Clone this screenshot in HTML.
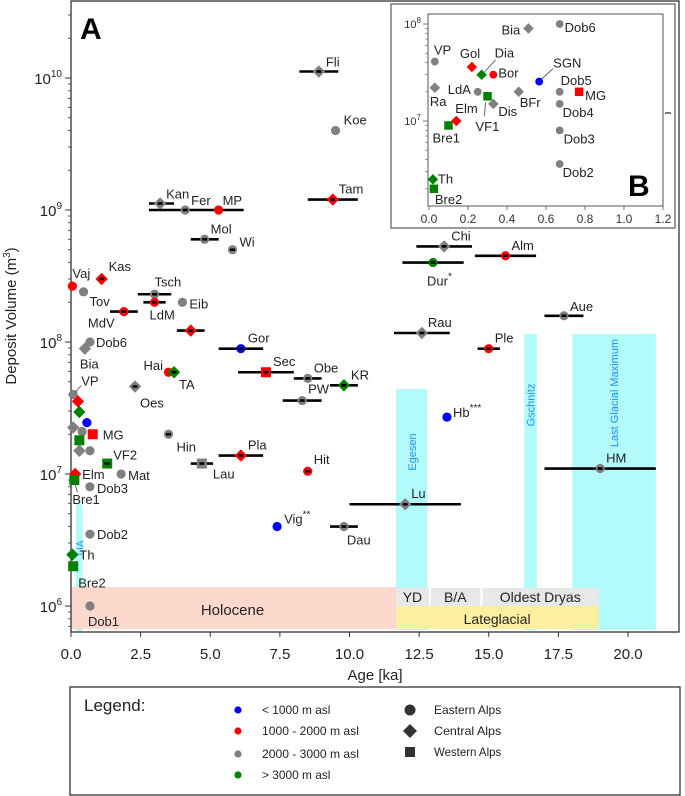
<!DOCTYPE html>
<html><head><meta charset="utf-8">
<style>
html,body{margin:0;padding:0;background:#fff;}
svg{display:block;font-family:"Liberation Sans",sans-serif;}
</style></head>
<body>
<svg id="chart" width="685" height="796" viewBox="0 0 685 796" xmlns="http://www.w3.org/2000/svg">
  <g id="bands"></g>
  <g id="axes"></g>
  <g id="marks"></g>
  <g id="inset"></g>
  <g id="legend"></g>
</svg>
<script>
// ---- main chart data ----
const names = ["Fli","Koe","Kan","Fer","MP","Tam","Mol","Wi","Vaj","Kas","Tov","Tsch","LdM","Eib","MdV","","Gor","Dob6","Bia","Hai","TA","Sec","Obe","KR","PW","Oes","VP","","","","","","MG","","","","VF2","Mat","Elm","Bre1","Dob3","Hin","Pla","Lau","Hit","Vig","Dau","Dob2","Th","Bre2","Dob1","Chi","Dur","Alm","Aue","Rau","Ple","Hb","HM","Lu"];
const ages = [8.9,9.5,3.2,4.1,5.3,9.4,4.8,5.8,0.05,1.1,0.45,3.0,3.0,4.0,1.9,4.3,6.1,0.68,0.5,3.5,3.7,7.0,8.5,9.8,8.3,2.3,0.08,0.25,0.3,0.57,0.08,0.4,0.78,0.3,0.3,0.68,1.3,1.8,0.15,0.12,0.68,3.5,6.1,4.7,8.5,7.4,9.8,0.68,0.05,0.08,0.68,13.4,13.0,15.6,17.7,12.6,15.0,13.5,19.0,12.0];
const volumes = [1.12e10,4.0e9,1.12e9,1.0e9,1.0e9,1.2e9,6.0e8,5.0e8,2.65e8,3.0e8,2.4e8,2.3e8,2.0e8,2.0e8,1.7e8,1.22e8,8.9e7,1.0e8,8.9e7,5.9e7,5.9e7,5.9e7,5.3e7,4.7e7,3.6e7,4.6e7,4.0e7,3.55e7,2.95e7,2.45e7,2.25e7,2.1e7,2.0e7,1.8e7,1.5e7,1.5e7,1.2e7,1.0e7,1.0e7,9.0e6,8.0e6,2.0e7,1.38e7,1.2e7,1.05e7,4.0e6,4.0e6,3.5e6,2.45e6,2.0e6,1.0e6,5.3e8,4.0e8,4.5e8,1.58e8,1.17e8,8.9e7,2.7e7,1.1e7,5.9e6];
const elevClass = ["g","g","g","g","r","r","g","g","r","r","g","g","r","g","r","r","b","g","g","r","gr","r","g","gr","g","g","g","r","gr","b","g","g","r","gr","g","g","gr","g","r","gr","g","g","r","g","r","b","g","g","gr","gr","g","g","gr","r","g","g","r","b","g","g"];
const region = ["C","E","C","E","E","C","E","E","E","C","E","E","E","E","E","C","E","E","C","E","C","W","E","C","E","C","E","C","C","E","C","E","W","W","C","E","W","E","C","W","E","E","C","W","E","E","E","E","C","W","E","C","E","E","E","C","E","E","E","C"];
const errLo = [8.2,null,2.8,2.8,null,8.5,4.3,5.65,null,0.95,null,2.4,2.6,null,1.4,3.8,5.3,null,null,null,3.55,6.0,8.0,9.3,7.6,2.15,null,null,null,null,null,null,null,null,null,null,1.2,null,null,null,null,3.4,5.3,4.3,8.35,null,9.3,null,null,null,null,12.4,11.9,14.5,17.0,11.6,14.6,null,17.0,10.0];
const errHi = [9.6,null,3.7,6.2,null,10.3,5.3,5.95,null,1.25,null,3.6,3.4,null,2.4,4.8,6.9,null,null,null,3.85,8.0,9.0,10.3,9.0,2.45,null,null,null,null,null,null,null,null,null,null,1.4,null,null,null,null,3.6,6.9,5.1,8.65,null,10.3,null,null,null,null,14.4,14.1,16.7,18.4,13.6,15.4,null,21.0,14.0];
const superscripts = {"Vig":"**","Dur":"*","Hb":"***"};
// label placement (layout, not data)
const labelOffsets = {Fli:[7,-5],Koe:[8,-6],Kan:[6,-5],Fer:[6,-5],MP:[4,-5],Tam:[6,-6],Mol:[6,-6],Wi:[7,-3],Vaj:[0,-8],Kas:[7,-8],Tov:[6,14],Tsch:[0,-8],LdM:[-5,17],Eib:[7,6],MdV:[-36,16],Gor:[7,-6],Dob6:[6,5],Bia:[-5,20],Hai:[-25,-2],TA:[5,17],Sec:[7,-6],Obe:[6,-6],KR:[7,-6],PW:[6,-7],Oes:[5,21],VP:[8,-9],MG:[10,5],VF2:[6,-4],Mat:[7,6],Elm:[7,5],Bre1:[-2,24],Dob3:[7,6],Hin:[8,17],Pla:[7,-6],Lau:[11,15],Hit:[6,-7],Vig:[7,-3],Dau:[3,18],Dob2:[7,5],Th:[7,5],Bre2:[5,21],Dob1:[-2,20],Chi:[7,-6],Dur:[-6,23],Alm:[6,-6],Aue:[6,-5],Rau:[6,-6],Ple:[6,-6],Hb:[6,0],HM:[6,-6],Lu:[6,-6]};

// ---- inset data ----
const insetNames = ["VP","Gol","Dia","Bor","SGN","Ra","LdA","BFr","Dob5","MG","VF1","Dis","Dob4","Elm","Bre1","Dob3","Dob2","Th","Bre2","Bia","Dob6"];
const insetAges = [0.03,0.22,0.27,0.33,0.565,0.03,0.25,0.46,0.67,0.77,0.30,0.33,0.67,0.14,0.10,0.67,0.67,0.02,0.025,0.51,0.67];
const insetVolumes = [4.1e7,3.6e7,3.0e7,3.0e7,2.55e7,2.2e7,2.0e7,2.0e7,2.0e7,2.0e7,1.8e7,1.5e7,1.5e7,1.0e7,9.0e6,8.0e6,3.6e6,2.5e6,2.0e6,9.0e7,1.0e8];
const insetClass = ["g","r","gr","r","b","g","g","g","g","r","gr","g","g","r","gr","g","g","gr","gr","g","g"];
const insetRegion = ["E","C","C","E","E","C","E","C","E","W","W","C","E","C","W","E","E","C","W","C","E"];
const insetLabelOffsets = {VP:[-1,-7],Gol:[-12,-9],Dia:[13,-17],Bor:[5,3],SGN:[14,-14],Ra:[-5,18],LdA:[-30,2],BFr:[1,15],Dob5:[1,-7],MG:[6,8],VF1:[-12,35],Dis:[5,12],Dob4:[3,13],Elm:[-1,-8],Bre1:[-16,17],Dob3:[4,13],Dob2:[3,13],Th:[5,4],Bre2:[1,15],Bia:[-27,6],Dob6:[5,8]};

const xTicks = [0,2.5,5,7.5,10,12.5,15,17.5,20];
const xTickLabels = ["0.0","2.5","5.0","7.5","10.0","12.5","15.0","17.5","20.0"];
const yTickExps = [6,7,8,9,10];
const insetXTicks = [0,0.2,0.4,0.6,0.8,1.0,1.2];
const insetXTickLabels = ["0.0","0.2","0.4","0.6","0.8","1.0","1.2"];
const insetYTickExps = [7,8];

const COLORS = {b:"#0000ff", r:"#ff0000", g:"#808080", gr:"#008000"};
const NS = "http://www.w3.org/2000/svg";

const PL=71, PR=679, PT=1, PB=632;
const X0=71, XS=27.85;
const Y6=606, YD=132;
function xs(a){return X0 + a*XS;}
function ysLog(l){return Y6 - (l-6)*YD;}
function ys(v){return ysLog(Math.log10(v));}
const IL=428, IR=663, IT=14, IB=206;
function ixs(a){return 429 + a*195;}
function iys(v){return 24 + (8-Math.log10(v))*97;}

function el(tag, attrs, parent, text){
  const e=document.createElementNS(NS,tag);
  for(const k in attrs) e.setAttribute(k,attrs[k]);
  if(text!==undefined) e.textContent=text;
  parent.appendChild(e); return e;
}
function marker(parent, cx, cy, cls, reg, s){
  const c=COLORS[cls]; let m;
  if(reg==="E"){ m=el("circle",{cx:cx,cy:cy,r:4.6*s,fill:c},parent); }
  else if(reg==="C"){ const d=6.2*s; m=el("polygon",{points:`${cx},${cy-d} ${cx+d},${cy} ${cx},${cy+d} ${cx-d},${cy}`,fill:c},parent); }
  else { const h=5*s; m=el("rect",{x:cx-h,y:cy-h,width:2*h,height:2*h,fill:c},parent); }
  return m;
}

const bands=document.getElementById('bands');
const axes=document.getElementById('axes');
const marks=document.getElementById('marks');
const inset=document.getElementById('inset');
const legend=document.getElementById('legend');

function band(name,a0,a1,yTop,yBot,fill){
  const r=el("rect",{x:xs(a0),y:yTop,width:xs(a1)-xs(a0),height:yBot-yTop,fill:fill},bands);
  
  
  return r;
}
band("lia-band",0.18,0.42,ys(5.9e6),PB,"#b3fbfb");
band("egesen-band",11.67,12.8,ys(4.4e7),PB-2,"#b3fbfb");
band("gschnitz-band",16.27,16.73,ys(1.15e8),PB-2,"#b3fbfb");
band("lgm-band",18.0,21.0,ys(1.15e8),PB-2,"#b3fbfb");
band("holocene-box",0,11.67,ysLog(6.144),ysLog(5.826),"#fdd8cc");
band("lateglacial-box",11.67,18.95,ysLog(6.0),ysLog(5.826),"#fcef9f");
band("yd-box",11.67,12.85,ysLog(6.137),ysLog(6.0),"#e8e8e8");
band("ba-box",12.92,14.7,ysLog(6.137),ysLog(6.0),"#e8e8e8");
band("oldest-dryas-box",14.78,18.95,ysLog(6.137),ysLog(6.0),"#e8e8e8");
function btext(name,x,y,t,size,fill,rot){
  const a={x:x,y:y,"font-size":size,fill:fill,"text-anchor":"middle"};
  if(rot) a.transform=`rotate(-90 ${x} ${y})`;
  const e=el("text",a,bands,t);
  
  
}
btext("holocene-label",xs(5.8),615,"Holocene",15,"#222");
btext("yd-label",xs(12.26),602,"YD",14,"#222");
btext("ba-label",xs(13.8),602,"B/A",14,"#222");
btext("oldest-dryas-label",xs(16.85),602,"Oldest Dryas",14,"#222");
btext("lateglacial-label",xs(15.3),624,"Lateglacial",14,"#222");
btext("egesen-label",xs(12.24)+4,452,"Egesen",11,"#1e90ff",true);
btext("gschnitz-label",xs(16.5)+4,405,"Gschnitz",11,"#1e90ff",true);
btext("lgm-label",xs(19.5)+4,393,"Last Glacial Maximum",11,"#1e90ff",true);
btext("lia-label",xs(0.3)+4,548,"LIA",10,"#1e90ff",true);

const frame=el("rect",{x:PL,y:PT,width:PR-PL,height:PB-PT,fill:"none",stroke:"#333","stroke-width":1.3},axes);


xTicks.forEach((t,i)=>{
  const x=xs(t);
  el("line",{x1:x,y1:PB,x2:x,y2:PB+5,stroke:"#333","stroke-width":1},axes);
  const tl=el("text",{x:x,y:659,"font-size":15,"text-anchor":"middle",fill:"#222"},axes,xTickLabels[i]);
  
  
});
yTickExps.forEach(e=>{
  const y=ysLog(e);
  el("line",{x1:PL-6,y1:y,x2:PL,y2:y,stroke:"#333","stroke-width":1},axes);
  const tl=el("text",{x:PL-9,y:y+6,"font-size":15,"text-anchor":"end",fill:"#222"},axes);
  
  
  el("tspan",{},tl,"10");
  el("tspan",{dy:-7,"font-size":10},tl,String(e));
});
for(let e=5;e<=10;e++){ for(let m=2;m<=9;m++){
  const l=e+Math.log10(m); const y=ysLog(l);
  if(y<PT||y>PB) continue;
  el("line",{x1:PL-3,y1:y,x2:PL,y2:y,stroke:"#333","stroke-width":0.8},axes);
}}
const xt=el("text",{x:(PL+PR)/2,y:680,"font-size":15,"text-anchor":"middle",fill:"#222"},axes,"Age [ka]");


const yt=el("text",{x:16,y:316,"font-size":15,"text-anchor":"middle",fill:"#222",transform:"rotate(-90 16 316)"},axes);


el("tspan",{},yt,"Deposit Volume (m");
el("tspan",{dy:-6,"font-size":10},yt,"3");
el("tspan",{dy:6},yt,")");
const pa=el("text",{x:80,y:39,"font-size":30,"font-weight":"bold",fill:"#000"},axes,"A");



names.forEach((n,i)=>{
  const x=xs(ages[i]), y=ys(volumes[i]);
  if(errLo[i]!==null){
    const eb=el("line",{x1:xs(errLo[i]),y1:y,x2:xs(errHi[i]),y2:y,stroke:"#000","stroke-width":2.6},marks);
    
    
  }
  const m=marker(marks,x,y,elevClass[i],region[i],1);
  
  
  if(errLo[i]!==null){ el("line",{x1:x-2.5,y1:y,x2:x+2.5,y2:y,stroke:"#000","stroke-width":2.6},marks); }
  if(n){
    const o=labelOffsets[n]||[6,-6];
    const lt=el("text",{x:x+o[0],y:y+o[1],"font-size":13,fill:"#222"},marks,n);
    
    
    if(superscripts[n]){ el("tspan",{dy:-6,"font-size":10},lt,superscripts[n]); }
  }
});
el("line",{x1:xs(0.08)+2,y1:ys(4.0e7)-2,x2:xs(0.08)+8,y2:ys(4.0e7)-9,stroke:"#444","stroke-width":0.8},marks);
el("line",{x1:xs(0.12)+1,y1:ys(9e6)+5,x2:xs(0.12)+3,y2:ys(9e6)+12,stroke:"#444","stroke-width":0.8},marks);

const ib=el("rect",{x:391,y:4,width:284,height:224,fill:"#fff",stroke:"#666","stroke-width":1.3},inset);


el("rect",{x:IL,y:IT,width:IR-IL,height:IB-IT,fill:"none",stroke:"#555","stroke-width":1},inset);
insetXTicks.forEach((t,i)=>{
  const x=ixs(t);
  el("line",{x1:x,y1:IB,x2:x,y2:IB+4,stroke:"#555","stroke-width":0.8},inset);
  const tl=el("text",{x:x,y:223,"font-size":12,"text-anchor":"middle",fill:"#333"},inset,insetXTickLabels[i]);
  
  
});
insetYTickExps.forEach(e=>{
  const y=iys(Math.pow(10,e));
  el("line",{x1:IL-5,y1:y,x2:IL,y2:y,stroke:"#555","stroke-width":0.8},inset);
  const tl=el("text",{x:IL-7,y:y+4,"font-size":11,"text-anchor":"end",fill:"#333"},inset);
  
  
  el("tspan",{},tl,"10");
  el("tspan",{dy:-5,"font-size":8},tl,String(e));
});
for(let e=6;e<=8;e++){ for(let m=2;m<=9;m++){
  const y=iys(m*Math.pow(10,e)); if(y<IT||y>IB) continue;
  el("line",{x1:IL-3,y1:y,x2:IL,y2:y,stroke:"#555","stroke-width":0.6},inset);
}}
el("line",{x1:665,y1:113,x2:671,y2:113,stroke:"#222","stroke-width":1.2},inset);
insetNames.forEach((n,i)=>{
  const x=ixs(insetAges[i]), y=iys(insetVolumes[i]);
  const m=marker(inset,x,y,insetClass[i],insetRegion[i],0.85);
  
  
  const o=insetLabelOffsets[n];
  const lt=el("text",{x:x+o[0],y:y+o[1],"font-size":13,fill:"#222"},inset,n);
  
  
});
el("line",{x1:ixs(0.27)+3,y1:iys(3.0e7)-3,x2:ixs(0.27)+14,y2:iys(3.0e7)-15,stroke:"#444","stroke-width":0.8},inset);
el("line",{x1:ixs(0.565)+3,y1:iys(2.55e7)-3,x2:ixs(0.565)+14,y2:iys(2.55e7)-13,stroke:"#444","stroke-width":0.8},inset);
el("line",{x1:ixs(0.30)-2,y1:iys(1.8e7)+6,x2:ixs(0.30)-3,y2:iys(1.8e7)+20,stroke:"#444","stroke-width":0.8},inset);
const pb=el("text",{x:628,y:196,"font-size":30,"font-weight":"bold",fill:"#000"},inset,"B");



const lb=el("rect",{x:70,y:687,width:610,height:108,fill:"#fff",stroke:"#333","stroke-width":1.3},legend);


const lt=el("text",{x:84,y:711,"font-size":17,fill:"#222"},legend,"Legend:");


const legElev=[["b","< 1000 m asl"],["r","1000 - 2000 m asl"],["g","2000 - 3000 m asl"],["gr","> 3000 m asl"]];
const legY=[710,731,754,775];
legElev.forEach((d,i)=>{
  const c=el("circle",{cx:238,cy:legY[i],r:3.6,fill:COLORS[d[0]]},legend);
  
  
  const t=el("text",{x:262,y:legY[i]+4,"font-size":12,fill:"#222",textLength:d[1].length*5.7,lengthAdjust:"spacingAndGlyphs"},legend,d[1]);
  
  
});
const legReg=[["E","Eastern Alps"],["C","Central Alps"],["W","Western Alps"]];
const legRY=[710,731,752];
legReg.forEach((d,i)=>{
  let m;
  if(d[0]==="E") m=el("circle",{cx:410,cy:legRY[i],r:5.5,fill:"#333"},legend);
  else if(d[0]==="C") m=el("polygon",{points:`410,${legRY[i]-7} 417,${legRY[i]} 410,${legRY[i]+7} 403,${legRY[i]}`,fill:"#333"},legend);
  else m=el("rect",{x:405,y:legRY[i]-5,width:10,height:10,fill:"#333"},legend);
  
  
  const t=el("text",{x:434,y:legRY[i]+4,"font-size":12,fill:"#222",textLength:d[1].length*5.6,lengthAdjust:"spacingAndGlyphs"},legend,d[1]);
  
  
});
</script>
</body></html>
